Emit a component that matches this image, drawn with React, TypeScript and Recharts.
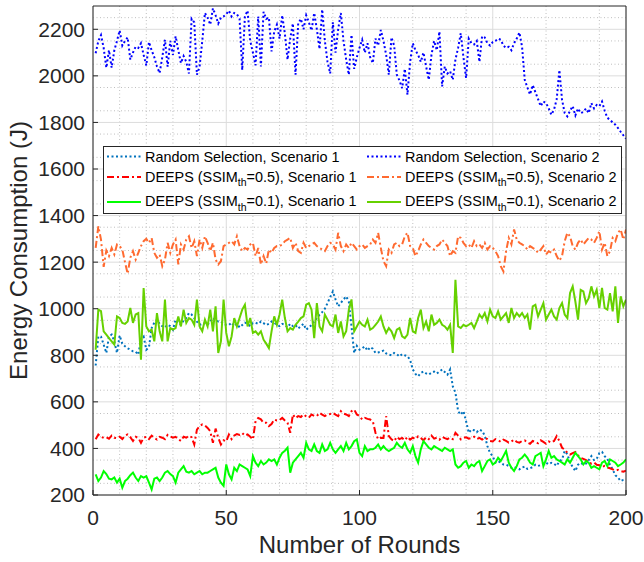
import React from 'react';
import { LineChart, Line, XAxis, YAxis, CartesianGrid, Legend } from 'recharts';

const FONT = '"Liberation Sans", Arial, Helvetica, sans-serif';
const INK = '#262626';

const ROUNDS = Array.from({ length: 200 }, (_, i) => i + 1);

const X_TICKS = [0, 50, 100, 150, 200];
const Y_TICKS = [200, 400, 600, 800, 1000, 1200, 1400, 1600, 1800, 2000, 2200];
const X_MINOR = [10, 20, 30, 40, 60, 70, 80, 90, 110, 120, 130, 140, 160, 170, 180, 190];
const Y_MINOR = [250, 300, 350, 450, 500, 550, 650, 700, 750, 850, 900, 950, 1050, 1100, 1150, 1250, 1300, 1350, 1450, 1500, 1550, 1650, 1700, 1750, 1850, 1900, 1950, 2050, 2100, 2150, 2250];

// Random Selection, Scenario 1
const RS1 = [
  756, 881, 880, 846, 810, 880, 889, 860, 810, 885,
  850, 839, 830, 824, 817, 815, 803, 867, 880, 824,
  835, 917, 940, 953, 935, 925, 920, 931, 925, 910,
  953, 940, 931, 950, 960, 981, 975, 960, 945, 931,
  935, 938, 931, 945, 960, 950, 945, 945, 935, 931,
  930, 940, 925, 935, 920, 930, 940, 935, 925, 938,
  940, 935, 945, 938, 930, 935, 945, 940, 930, 925,
  935, 930, 920, 935, 925, 930, 915, 925, 935, 910,
  920, 930, 945, 960, 974, 985, 1000, 1024, 1050, 1074,
  1040, 1010, 1025, 1040, 1053, 1030, 924, 810, 840, 824,
  830, 838, 820, 835, 828, 810, 812, 815, 820, 808,
  803, 800, 810, 805, 795, 805, 800, 796, 780, 739,
  720, 710, 724, 730, 722, 717, 725, 730, 722, 730,
  739, 728, 717, 739, 667, 640, 560, 545, 560, 517,
  467, 481, 478, 470, 481, 475, 455, 410, 380, 367,
  339, 345, 340, 331, 330, 325, 317, 320, 315, 310,
  318, 322, 312, 315, 320, 330, 325, 328, 335, 339,
  332, 338, 334, 325, 345, 353, 389, 375, 340, 320,
  303, 330, 338, 331, 335, 350, 367, 350, 355, 380,
  385, 367, 355, 330, 310, 285, 275, 260, 265, 267,
];

// DEEPS (SSIM_th=0.5), Scenario 1
const D5S1 = [
  439, 460, 450, 445, 448, 442, 455, 446, 444, 450,
  440, 455, 460, 448, 432, 450, 445, 424, 446, 450,
  440, 455, 445, 438, 450, 446, 440, 458, 452, 446,
  450, 440, 432, 450, 446, 455, 448, 417, 481, 495,
  503, 498, 488, 474, 424, 485, 446, 417, 435, 430,
  460, 440, 455, 462, 458, 466, 455, 460, 450, 439,
  517, 531, 525, 510, 510, 496, 505, 524, 520, 522,
  531, 520, 510, 467, 546, 530, 539, 535, 546, 538,
  532, 546, 540, 539, 553, 545, 539, 546, 548, 553,
  545, 539, 560, 550, 546, 539, 560, 567, 546, 539,
  524, 531, 527, 524, 517, 467, 439, 446, 445, 539,
  453, 439, 431, 450, 440, 445, 435, 450, 438, 446,
  440, 452, 445, 435, 448, 440, 455, 442, 446, 438,
  450, 444, 440, 446, 440, 467, 455, 439, 446, 448,
  442, 445, 450, 440, 445, 438, 446, 440, 432, 430,
  440, 435, 428, 438, 432, 425, 430, 438, 428, 425,
  432, 435, 425, 420, 432, 428, 422, 435, 428, 420,
  430, 425, 432, 453, 432, 403, 395, 381, 374, 380,
  385, 370, 360, 355, 350, 339, 335, 340, 330, 328,
  320, 325, 318, 315, 310, 305, 308, 303, 300, 305,
];

// DEEPS (SSIM_th=0.1), Scenario 1
const D1S1 = [
  289, 260, 275, 303, 290, 270, 267, 275, 253, 270,
  231, 260, 270, 285, 296, 275, 260, 281, 275, 281,
  253, 224, 270, 275, 260, 275, 296, 303, 290, 281,
  253, 296, 310, 324, 300, 296, 303, 289, 296, 303,
  289, 296, 296, 303, 310, 317, 275, 253, 239, 331,
  289, 267, 317, 303, 331, 324, 317, 310, 281, 367,
  339, 324, 346, 331, 339, 353, 346, 353, 331, 360,
  381, 390, 403, 296, 339, 353, 367, 381, 360, 424,
  396, 389, 417, 389, 381, 417, 389, 396, 424, 396,
  381, 396, 410, 389, 424, 396, 410, 431, 439, 381,
  367, 410, 389, 396, 396, 403, 417, 396, 410, 396,
  389, 396, 403, 424, 410, 403, 424, 396, 381, 410,
  367, 339, 396, 431, 417, 403, 396, 410, 403, 396,
  389, 403, 396, 389, 396, 331, 317, 324, 339, 346,
  317, 331, 324, 339, 346, 303, 324, 346, 353, 331,
  339, 360, 346, 367, 389, 339, 317, 303, 324, 353,
  360, 374, 360, 339, 331, 367, 374, 381, 324, 353,
  389, 360, 367, 353, 346, 339, 331, 353, 339, 360,
  381, 367, 353, 331, 346, 339, 317, 324, 317, 310,
  339, 346, 324, 353, 346, 339, 324, 331, 339, 353,
];

// Random Selection, Scenario 2
const RS2 = [
  2097, 2150, 2175, 2120, 2035, 2110, 2035, 2110, 2150, 2195,
  2130, 2150, 2165, 2070, 2100, 2125, 2120, 2140, 2090, 2045,
  2145, 2110, 2080, 2040, 2012, 2080, 2155, 2040, 2150, 2090,
  2170, 2110, 2055, 2085, 2060, 2010, 2245, 2230, 2005, 2040,
  2150, 2270, 2250, 2220, 2290, 2260, 2225, 2250, 2255, 2265,
  2280, 2255, 2270, 2265, 2245, 2025, 2255, 2280, 2150, 2100,
  2045, 2255, 2040, 2275, 2245, 2250, 2105, 2190, 2220, 2160,
  2260, 2180, 2070, 2160, 2225, 2005, 2225, 2245, 2200, 2260,
  2230, 2195, 2270, 2200, 2115, 2285, 2150, 2060, 2010, 2230,
  2100, 2200, 2270, 2150, 2070, 2005, 2176, 2030, 2080, 2120,
  2155, 2100, 2140, 2080, 2055, 2160, 2130, 2197, 2150, 2090,
  2005, 2165, 2130, 2005, 1980, 1947, 2030, 1919, 2060, 2140,
  2110, 2090, 2060, 2100, 2040, 1983, 2090, 2150, 2110, 2190,
  1955, 2040, 2010, 2020, 1983, 2070, 2120, 2183, 2080, 1990,
  2160, 2140, 2135, 2150, 2060, 2170, 2165, 2140, 2130, 2145,
  2150, 2160, 2155, 2130, 2120, 2125, 2110, 2140, 2160, 2186,
  2125, 1983, 1950, 1920, 1960, 1930, 1900, 1870, 1890, 1883,
  1860, 1833, 1855, 1900, 2025, 1897, 1840, 1826, 1850, 1870,
  1830, 1860, 1840, 1845, 1860, 1840, 1883, 1860, 1875, 1870,
  1890, 1850, 1820, 1811, 1800, 1790, 1776, 1760, 1745, 1730,
];

// DEEPS (SSIM_th=0.5), Scenario 2
const D5S2 = [
  1261, 1354, 1297, 1180, 1250, 1226, 1261, 1233, 1276, 1269,
  1254, 1200, 1150, 1219, 1247, 1211, 1240, 1269, 1290, 1300,
  1283, 1304, 1240, 1219, 1233, 1183, 1211, 1283, 1240, 1276,
  1297, 1190, 1276, 1254, 1297, 1311, 1261, 1290, 1226, 1297,
  1261, 1311, 1283, 1247, 1283, 1211, 1190, 1204, 1269, 1276,
  1283, 1290, 1276, 1311, 1269, 1247, 1261, 1254, 1276, 1283,
  1226, 1261, 1190, 1226, 1194, 1254, 1240, 1261, 1269, 1269,
  1276, 1290, 1297, 1304, 1261, 1283, 1247, 1240, 1283, 1261,
  1269, 1276, 1283, 1269, 1261, 1254, 1247, 1269, 1283, 1276,
  1254, 1326, 1269, 1247, 1276, 1261, 1283, 1269, 1254, 1269,
  1276, 1261, 1269, 1276, 1297, 1283, 1326, 1261, 1204, 1183,
  1254, 1240, 1276, 1283, 1269, 1276, 1311, 1326, 1269, 1261,
  1226, 1247, 1276, 1297, 1283, 1269, 1261, 1254, 1269, 1276,
  1297, 1283, 1269, 1226, 1247, 1240, 1311, 1304, 1283, 1269,
  1276, 1261, 1290, 1269, 1276, 1261, 1283, 1254, 1269, 1261,
  1247, 1226, 1183, 1160, 1247, 1304, 1276, 1340, 1297, 1283,
  1276, 1269, 1254, 1269, 1261, 1254, 1240, 1254, 1269, 1233,
  1247, 1240, 1254, 1226, 1206, 1226, 1290, 1326, 1311, 1269,
  1254, 1283, 1297, 1276, 1290, 1304, 1297, 1283, 1304, 1333,
  1254, 1283, 1226, 1247, 1304, 1290, 1326, 1340, 1297, 1340,
];

// DEEPS (SSIM_th=0.1), Scenario 2
const D1S2 = [
  824, 996, 990, 903, 889, 874, 860, 846, 967, 960,
  939, 935, 945, 1003, 939, 975, 981, 781, 1089, 924,
  903, 910, 860, 981, 903, 860, 1039, 860, 917, 910,
  917, 967, 924, 996, 939, 960, 953, 931, 1039, 924,
  903, 953, 924, 996, 903, 1010, 810, 860, 1039, 896,
  839, 881, 960, 924, 960, 996, 1017, 924, 960, 896,
  903, 889, 903, 867, 850, 831, 903, 967, 931, 975,
  1039, 960, 903, 917, 910, 931, 945, 960, 967, 1017,
  1024, 996, 874, 1024, 924, 903, 975, 953, 931, 924,
  975, 896, 945, 881, 903, 996, 1040, 903, 924, 945,
  931, 924, 953, 910, 917, 931, 945, 967, 924, 896,
  917, 903, 874, 910, 917, 881, 874, 889, 960, 903,
  896, 960, 996, 917, 945, 903, 975, 931, 939, 953,
  931, 924, 910, 931, 810, 1124, 924, 917, 931, 924,
  931, 939, 917, 945, 975, 960, 981, 945, 996, 967,
  960, 989, 953, 967, 981, 939, 1003, 960, 981, 967,
  981, 960, 975, 910, 1010, 1017, 967, 996, 1024, 953,
  975, 996, 967, 953, 1003, 1024, 975, 960, 1067, 1096,
  1031, 953, 1081, 1074, 1024, 1045, 1096, 1053, 1081, 1003,
  1089, 1003, 996, 1067, 989, 1096, 939, 1053, 1010, 1039,
];

type Series = {
  key: string;
  main: string;
  sub?: string;
  rest?: string;
  color: string;
  dash?: string;
};

const SERIES: Series[] = [
  { key: 'rs1', main: 'Random Selection, Scenario 1', color: '#0072BD', dash: '2 2.5' },
  { key: 'd5s1', main: 'DEEPS (SSIM', sub: 'th', rest: '=0.5), Scenario 1', color: '#FF0000', dash: '7 3 2 3' },
  { key: 'd1s1', main: 'DEEPS (SSIM', sub: 'th', rest: '=0.1), Scenario 1', color: '#00FF00' },
  { key: 'rs2', main: 'Random Selection, Scenario 2', color: '#0000FF', dash: '2 2.5' },
  { key: 'd5s2', main: 'DEEPS (SSIM', sub: 'th', rest: '=0.5), Scenario 2', color: '#FF6A30', dash: '7 3 2 3' },
  { key: 'd1s2', main: 'DEEPS (SSIM', sub: 'th', rest: '=0.1), Scenario 2', color: '#66D100' },
];

const data = ROUNDS.map((r, i) => ({
  round: r,
  rs1: RS1[i],
  d5s1: D5S1[i],
  d1s1: D1S1[i],
  rs2: RS2[i],
  d5s2: D5S2[i],
  d1s2: D1S2[i],
}));

function LegendBox() {
  const colX = [4, 264];
  const rowLineY = [10.5, 31, 56];
  const rowTextY = [16, 35.5, 60];
  return (
    <svg width={520} height={68} style={{ display: 'block' }}>
      <rect x={0.5} y={0.5} width={518} height={67} fill="#ffffff" stroke={INK} strokeWidth={1} />
      {SERIES.map((s, i) => {
        const col = Math.floor(i / 3);
        const row = i % 3;
        const lx = colX[col];
        return (
          <g key={s.key}>
            <line x1={lx} x2={lx + 34} y1={rowLineY[row]} y2={rowLineY[row]} stroke={s.color} strokeWidth={2} strokeDasharray={s.dash} />
            <text x={lx + 38} y={rowTextY[row]} fontSize={14.4} fontFamily={FONT} fill="#000">
              {s.main}
              {s.sub ? <tspan fontSize={10.5} dy={4.5}>{s.sub}</tspan> : null}
              {s.rest ? <tspan dy={-4.5}>{s.rest}</tspan> : null}
            </text>
          </g>
        );
      })}
    </svg>
  );
}

const XTitle = (props: any) => {
  const vb = props.viewBox || { x: 93, width: 533 };
  return (
    <text x={vb.x + vb.width / 2} y={553} textAnchor="middle" fontSize={24} fontFamily={FONT} fill={INK}>
      Number of Rounds
    </text>
  );
};

const YTitle = (props: any) => {
  const vb = props.viewBox || { y: 6, height: 489 };
  const cy = vb.y + vb.height / 2;
  return (
    <text x={27} y={cy} transform={`rotate(-90, 27, ${cy})`} textAnchor="middle" fontSize={24} fontFamily={FONT} fill={INK}>
      Energy Consumption (J)
    </text>
  );
};

export default function App() {
  const tickStyle = { fill: INK, fontSize: 21, fontFamily: FONT };
  return (
    <div style={{ position: 'absolute', left: 0, top: 0, width: 644, height: 562, background: '#ffffff' }}>
      <LineChart width={644} height={562} data={data} margin={{ top: 5, right: 17, bottom: 0, left: 0 }}>
        <CartesianGrid horizontalValues={Y_MINOR} verticalValues={X_MINOR} stroke="#bfbfbf" strokeDasharray="1 2.5" />
        <CartesianGrid horizontalValues={Y_TICKS} verticalValues={X_TICKS} stroke="#dcdcdc" />
        <XAxis
          dataKey="round"
          type="number"
          domain={[0, 200]}
          ticks={X_TICKS}
          height={67}
          tickSize={-5}
          tickMargin={20}
          axisLine={{ stroke: INK }}
          tickLine={{ stroke: INK }}
          tick={tickStyle}
          allowDataOverflow
          label={{ content: XTitle }}
        />
        <XAxis
          xAxisId="top"
          orientation="top"
          type="number"
          domain={[0, 200]}
          ticks={X_TICKS}
          height={1}
          tickSize={-5}
          tick={false}
          axisLine={{ stroke: INK }}
          tickLine={{ stroke: INK }}
        />
        <YAxis
          type="number"
          domain={[200, 2300]}
          ticks={Y_TICKS}
          width={93}
          tickSize={-5}
          tickMargin={13}
          axisLine={{ stroke: INK }}
          tickLine={{ stroke: INK }}
          tick={tickStyle}
          allowDataOverflow
          label={{ content: YTitle }}
        />
        <YAxis
          yAxisId="right"
          orientation="right"
          type="number"
          domain={[200, 2300]}
          ticks={Y_TICKS}
          width={1}
          tickSize={-5}
          tick={false}
          axisLine={{ stroke: INK }}
          tickLine={{ stroke: INK }}
        />
        {SERIES.map((s) => (
          <Line
            key={s.key}
            type="linear"
            dataKey={s.key}
            name={s.main + (s.sub || '') + (s.rest || '')}
            stroke={s.color}
            strokeWidth={2}
            strokeDasharray={s.dash}
            dot={false}
            activeDot={false}
            isAnimationActive={false}
          />
        ))}
        <Legend
          layout="vertical"
          align="center"
          verticalAlign="middle"
          wrapperStyle={{ left: 102.5, top: 146, width: 520, height: 68 }}
          content={() => <LegendBox />}
        />
      </LineChart>
    </div>
  );
}
